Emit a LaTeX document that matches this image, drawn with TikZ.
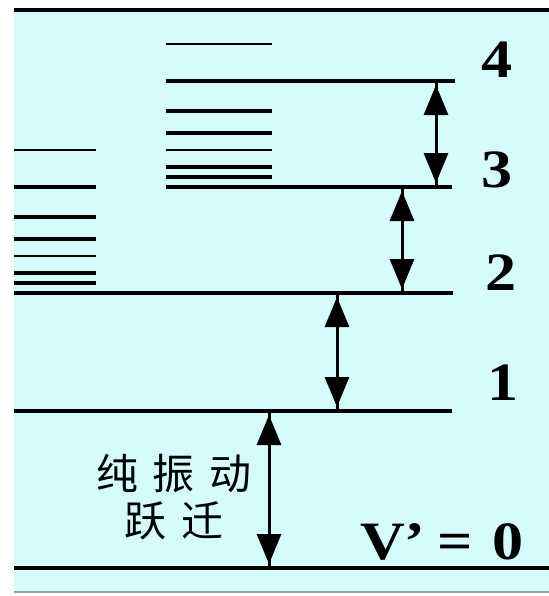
\documentclass[tikz,border=0pt]{standalone}
\usepackage{fontspec}
\usetikzlibrary{arrows.meta}
\newfontfamily\numfont[FakeStretch=1.15]{Liberation Serif}
\newfontfamily\cjkfont[LetterSpace=35]{Noto Sans CJK SC}
\definecolor{PanelCyan}{RGB}{214,251,252}
\definecolor{RuleGray}{RGB}{150,160,160}

\begin{document}
\begin{tikzpicture}[x=0.5pt, y=-0.5pt,
    level/.style={line width=2pt},
    jump/.style={line width=1.5pt,
                 postaction={draw, {Triangle[length=15pt,width=12pt]}-{Triangle[length=15pt,width=12pt]},
                             shorten <=2pt, shorten >=2pt}},
    num/.style={font=\numfont\bfseries\fontsize{27}{30}\selectfont, inner sep=0pt}
  ]
  \useasboundingbox (0,0) rectangle (549,596);

  % panel
  \fill[white] (0,0) rectangle (549,596);
  \fill[PanelCyan] (14,10) rectangle (549,592);
  \draw[line width=2pt] (14,10) -- (549,10);
  \draw[RuleGray, line width=1pt] (14,592) -- (549,592);

  % vibrational levels
  \coordinate (v4w) at (166,81);  \coordinate (v4e) at (455,81);
  \coordinate (v3w) at (166,187); \coordinate (v3e) at (452,187);
  \coordinate (v2w) at (14,293);  \coordinate (v2e) at (453,293);
  \coordinate (v1w) at (14,411);  \coordinate (v1e) at (452,411);
  \coordinate (v0w) at (14,568);  \coordinate (v0e) at (549,568);
  \foreach \v in {4,3,2,1,0} {
    \draw[level] (v\v w) -- (v\v e);
  }

  % rotational sublevels above v=1 and v=2
  \foreach \d/\w in {143/1pt, 106/2pt, 76/2pt, 54/2pt, 37/1pt, 20/2pt, 10/2pt} {
    \draw[line width=\w] (14,293-\d) -- (96,293-\d);
    \draw[line width=\w] (166,187-\d) -- (272,187-\d);
  }

  % transitions
  \coordinate (j4) at (436,0);
  \coordinate (j3) at (402,0);
  \coordinate (j2) at (337,0);
  \coordinate (j1) at (269,0);
  \foreach \u/\l in {4/3, 3/2, 2/1, 1/0} {
    \draw[jump] (j\u |- v\u w) -- (j\u |- v\l w);
  }

  % labels
  \node[num] (n4) at (497,60) {4};
  \node[num] (n3) at (497,170) {3};
  \node[num] (n2) at (501,273) {2};
  \node[num] (n1) at (503,383) {1};
  \node[num] (n0) at (442,542) {V’\hspace{6pt}=\hspace{10pt}0};
  \node[font=\cjkfont\fontsize{21}{23.5}\selectfont, align=center, text=black]
        (note) at (174,497) {纯振动\\跃迁};
\end{tikzpicture}
\end{document}
